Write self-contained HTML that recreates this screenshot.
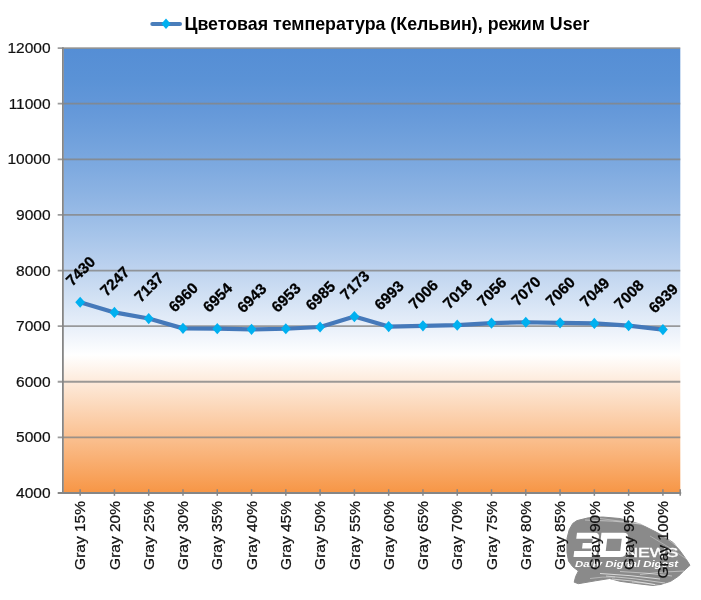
<!DOCTYPE html><html><head><meta charset="utf-8"><style>
html,body{margin:0;padding:0;background:#fff;width:701px;height:600px;overflow:hidden}
svg{display:block;will-change:transform}
text{font-family:"Liberation Sans",sans-serif}
</style></head><body>
<svg width="701" height="600" viewBox="0 0 701 600">
<defs>
<linearGradient id="bg" x1="0" y1="0" x2="0" y2="1">
<stop offset="0.0000" stop-color="rgb(85,142,213)"/>
<stop offset="0.0690" stop-color="rgb(90,146,214)"/>
<stop offset="0.1380" stop-color="rgb(100,152,217)"/>
<stop offset="0.2070" stop-color="rgb(113,161,220)"/>
<stop offset="0.2760" stop-color="rgb(128,171,224)"/>
<stop offset="0.3450" stop-color="rgb(145,182,228)"/>
<stop offset="0.4140" stop-color="rgb(164,195,233)"/>
<stop offset="0.4830" stop-color="rgb(185,208,238)"/>
<stop offset="0.5520" stop-color="rgb(207,223,243)"/>
<stop offset="0.6210" stop-color="rgb(230,238,249)"/>
<stop offset="0.6900" stop-color="rgb(255,255,255)"/>
<stop offset="1.0000" stop-color="rgb(247,150,70)"/>
</linearGradient>
</defs>

<rect x="63.5" y="48.5" width="616.8" height="444.1" fill="url(#bg)"/>
<line x1="57.7" y1="48.10" x2="680.3" y2="48.10" stroke="#868686" stroke-opacity="0.82" stroke-width="1.8"/>
<line x1="57.7" y1="103.71" x2="680.3" y2="103.71" stroke="#868686" stroke-opacity="0.82" stroke-width="1.8"/>
<line x1="57.7" y1="159.32" x2="680.3" y2="159.32" stroke="#868686" stroke-opacity="0.82" stroke-width="1.8"/>
<line x1="57.7" y1="214.93" x2="680.3" y2="214.93" stroke="#868686" stroke-opacity="0.82" stroke-width="1.8"/>
<line x1="57.7" y1="270.54" x2="680.3" y2="270.54" stroke="#868686" stroke-opacity="0.82" stroke-width="1.8"/>
<line x1="57.7" y1="326.15" x2="680.3" y2="326.15" stroke="#868686" stroke-opacity="0.82" stroke-width="1.8"/>
<line x1="57.7" y1="381.76" x2="680.3" y2="381.76" stroke="#868686" stroke-opacity="0.82" stroke-width="1.8"/>
<line x1="57.7" y1="437.37" x2="680.3" y2="437.37" stroke="#868686" stroke-opacity="0.82" stroke-width="1.8"/>
<line x1="62.9" y1="47.2" x2="62.9" y2="493.5" stroke="#868686" stroke-width="1.8"/>
<line x1="57.7" y1="493.00" x2="681.1999999999999" y2="493.00" stroke="#868686" stroke-width="1.8"/>
<line x1="80.15" y1="489.3" x2="80.15" y2="495.8" stroke="#868686" stroke-width="1.5"/>
<line x1="114.43" y1="489.3" x2="114.43" y2="495.8" stroke="#868686" stroke-width="1.5"/>
<line x1="148.71" y1="489.3" x2="148.71" y2="495.8" stroke="#868686" stroke-width="1.5"/>
<line x1="182.99" y1="489.3" x2="182.99" y2="495.8" stroke="#868686" stroke-width="1.5"/>
<line x1="217.27" y1="489.3" x2="217.27" y2="495.8" stroke="#868686" stroke-width="1.5"/>
<line x1="251.55" y1="489.3" x2="251.55" y2="495.8" stroke="#868686" stroke-width="1.5"/>
<line x1="285.83" y1="489.3" x2="285.83" y2="495.8" stroke="#868686" stroke-width="1.5"/>
<line x1="320.11" y1="489.3" x2="320.11" y2="495.8" stroke="#868686" stroke-width="1.5"/>
<line x1="354.39" y1="489.3" x2="354.39" y2="495.8" stroke="#868686" stroke-width="1.5"/>
<line x1="388.67" y1="489.3" x2="388.67" y2="495.8" stroke="#868686" stroke-width="1.5"/>
<line x1="422.95" y1="489.3" x2="422.95" y2="495.8" stroke="#868686" stroke-width="1.5"/>
<line x1="457.23" y1="489.3" x2="457.23" y2="495.8" stroke="#868686" stroke-width="1.5"/>
<line x1="491.51" y1="489.3" x2="491.51" y2="495.8" stroke="#868686" stroke-width="1.5"/>
<line x1="525.79" y1="489.3" x2="525.79" y2="495.8" stroke="#868686" stroke-width="1.5"/>
<line x1="560.07" y1="489.3" x2="560.07" y2="495.8" stroke="#868686" stroke-width="1.5"/>
<line x1="594.35" y1="489.3" x2="594.35" y2="495.8" stroke="#868686" stroke-width="1.5"/>
<line x1="628.63" y1="489.3" x2="628.63" y2="495.8" stroke="#868686" stroke-width="1.5"/>
<line x1="662.91" y1="489.3" x2="662.91" y2="495.8" stroke="#868686" stroke-width="1.5"/>
<line x1="680.2" y1="489.3" x2="680.2" y2="495.8" stroke="#868686" stroke-width="1.5"/>
<g id="wm">
<polygon points="577,520.6 588.3,517.8 602.5,517 620,518.5 640,524 660,534 673.3,542.7 680,550.7 686.7,560 690,565.3 684,570.7 678.7,576 670.7,581.3 660,584.7 653,585.5 640,584 620,581.3 609.6,578.5 595.4,580.8 578.4,583.7 574.2,582.2 575.6,576.6 578.4,571 572.7,566.7 568.5,561 567,552.5 567,538.3 569.2,529.8 572.7,523.5" fill="#8a8a8a" stroke="#8a8a8a" stroke-width="1" stroke-linejoin="round"/>
<g transform="translate(0,557) skewX(-7) translate(0,-557)">
<path fill="#fff" d="M574,532.8 H592 Q596.5,532.8 596.5,537.3 V552.5 Q596.5,557 592,557 H573.5 V551 H590.5 V548.4 H581 V543 H590.5 V538.8 H574 Z"/>
<path fill="#fff" fill-rule="evenodd" d="M598.5,532.8 H620.5 Q625.8,532.8 625.8,538.1 V551.7 Q625.8,557 620.5,557 H598.5 Z M605,538.8 V551 H619.5 V538.8 Z"/>
</g>
<text x="625.2" y="557.3" font-size="12.6" fill="#fff" stroke="#fff" stroke-width="0.4" textLength="53" lengthAdjust="spacingAndGlyphs">NEWS</text>
<text x="575" y="566.6" font-size="9.6" font-weight="bold" font-style="italic" fill="#fff" textLength="103" lengthAdjust="spacingAndGlyphs">Daily Digital Digest</text>
<path d="M600,573.5 Q630.0,575.05 660,579" stroke="#fff" stroke-width="0.9" fill="none" opacity="0.75"/>
<path d="M606,576 Q635.5,578.3 665,583" stroke="#fff" stroke-width="0.7" fill="none" opacity="0.75"/>
<path d="M612,579 Q633.5,580.55 655,584.5" stroke="#fff" stroke-width="0.8" fill="none" opacity="0.75"/>
<path d="M620,571.5 Q646.0,572.55 672,576" stroke="#fff" stroke-width="0.6" fill="none" opacity="0.75"/>
<path d="M632,582 Q647.0,582.8 662,586" stroke="#fff" stroke-width="0.6" fill="none" opacity="0.75"/>
<path d="M640,574.5 Q662.0,571.55 684,571" stroke="#fff" stroke-width="0.6" fill="none" opacity="0.75"/>
<path d="M590,578.5 Q602.5,576.55 615,577" stroke="#fff" stroke-width="0.5" fill="none" opacity="0.75"/>
<path d="M585,520 Q612.5,520.55 640,523.5" stroke="#fff" stroke-width="0.6" fill="none" opacity="0.75"/>
<path d="M600,518.5 Q625.0,521.05 650,526" stroke="#fff" stroke-width="0.5" fill="none" opacity="0.75"/>
<path d="M655,530 Q670.0,540.3 685,553" stroke="#fff" stroke-width="0.5" fill="none" opacity="0.75"/>
<path d="M650,536 Q669.0,546.8 688,560" stroke="#fff" stroke-width="0.4" fill="none" opacity="0.75"/>
</g>
<text x="50.6" y="53.10" font-size="15.5" text-anchor="end" fill="#111" stroke="#111" stroke-width="0.22">12000</text>
<text x="50.6" y="108.71" font-size="15.5" text-anchor="end" fill="#111" stroke="#111" stroke-width="0.22">11000</text>
<text x="50.6" y="164.32" font-size="15.5" text-anchor="end" fill="#111" stroke="#111" stroke-width="0.22">10000</text>
<text x="50.6" y="219.93" font-size="15.5" text-anchor="end" fill="#111" stroke="#111" stroke-width="0.22">9000</text>
<text x="50.6" y="275.54" font-size="15.5" text-anchor="end" fill="#111" stroke="#111" stroke-width="0.22">8000</text>
<text x="50.6" y="331.15" font-size="15.5" text-anchor="end" fill="#111" stroke="#111" stroke-width="0.22">7000</text>
<text x="50.6" y="386.76" font-size="15.5" text-anchor="end" fill="#111" stroke="#111" stroke-width="0.22">6000</text>
<text x="50.6" y="442.37" font-size="15.5" text-anchor="end" fill="#111" stroke="#111" stroke-width="0.22">5000</text>
<text x="50.6" y="497.98" font-size="15.5" text-anchor="end" fill="#111" stroke="#111" stroke-width="0.22">4000</text>
<text transform="translate(85.35,501) rotate(-90)" font-size="15.5" text-anchor="end" fill="#111" stroke="#111" stroke-width="0.22">Gray 15%</text>
<text transform="translate(119.63,501) rotate(-90)" font-size="15.5" text-anchor="end" fill="#111" stroke="#111" stroke-width="0.22">Gray 20%</text>
<text transform="translate(153.91,501) rotate(-90)" font-size="15.5" text-anchor="end" fill="#111" stroke="#111" stroke-width="0.22">Gray 25%</text>
<text transform="translate(188.19,501) rotate(-90)" font-size="15.5" text-anchor="end" fill="#111" stroke="#111" stroke-width="0.22">Gray 30%</text>
<text transform="translate(222.47,501) rotate(-90)" font-size="15.5" text-anchor="end" fill="#111" stroke="#111" stroke-width="0.22">Gray 35%</text>
<text transform="translate(256.75,501) rotate(-90)" font-size="15.5" text-anchor="end" fill="#111" stroke="#111" stroke-width="0.22">Gray 40%</text>
<text transform="translate(291.03,501) rotate(-90)" font-size="15.5" text-anchor="end" fill="#111" stroke="#111" stroke-width="0.22">Gray 45%</text>
<text transform="translate(325.31,501) rotate(-90)" font-size="15.5" text-anchor="end" fill="#111" stroke="#111" stroke-width="0.22">Gray 50%</text>
<text transform="translate(359.59,501) rotate(-90)" font-size="15.5" text-anchor="end" fill="#111" stroke="#111" stroke-width="0.22">Gray 55%</text>
<text transform="translate(393.87,501) rotate(-90)" font-size="15.5" text-anchor="end" fill="#111" stroke="#111" stroke-width="0.22">Gray 60%</text>
<text transform="translate(428.15,501) rotate(-90)" font-size="15.5" text-anchor="end" fill="#111" stroke="#111" stroke-width="0.22">Gray 65%</text>
<text transform="translate(462.43,501) rotate(-90)" font-size="15.5" text-anchor="end" fill="#111" stroke="#111" stroke-width="0.22">Gray 70%</text>
<text transform="translate(496.71,501) rotate(-90)" font-size="15.5" text-anchor="end" fill="#111" stroke="#111" stroke-width="0.22">Gray 75%</text>
<text transform="translate(530.99,501) rotate(-90)" font-size="15.5" text-anchor="end" fill="#111" stroke="#111" stroke-width="0.22">Gray 80%</text>
<text transform="translate(565.27,501) rotate(-90)" font-size="15.5" text-anchor="end" fill="#111" stroke="#111" stroke-width="0.22">Gray 85%</text>
<text transform="translate(599.55,501) rotate(-90)" font-size="15.5" text-anchor="end" fill="#111" stroke="#111" stroke-width="0.22">Gray 90%</text>
<text transform="translate(633.83,501) rotate(-90)" font-size="15.5" text-anchor="end" fill="#111" stroke="#111" stroke-width="0.22">Gray 95%</text>
<text transform="translate(668.11,501) rotate(-90)" font-size="15.5" text-anchor="end" fill="#111" stroke="#111" stroke-width="0.22">Gray 100%</text>
<polyline points="80.15,302.24 114.43,312.41 148.71,318.53 182.99,328.37 217.27,328.71 251.55,329.32 285.83,328.76 320.11,326.98 354.39,316.53 388.67,326.54 422.95,325.82 457.23,325.15 491.51,323.04 525.79,322.26 560.07,322.81 594.35,323.43 628.63,325.71 662.91,329.54" fill="none" stroke="#4579BA" stroke-width="4.2" stroke-linejoin="round" stroke-linecap="round"/>
<path d="M80.15,296.64 L85.05,302.24 L80.15,307.84 L75.25,302.24Z" fill="#00B0F0"/>
<path d="M114.43,306.81 L119.33,312.41 L114.43,318.01 L109.53,312.41Z" fill="#00B0F0"/>
<path d="M148.71,312.93 L153.61,318.53 L148.71,324.13 L143.81,318.53Z" fill="#00B0F0"/>
<path d="M182.99,322.77 L187.89,328.37 L182.99,333.97 L178.09,328.37Z" fill="#00B0F0"/>
<path d="M217.27,323.11 L222.17,328.71 L217.27,334.31 L212.37,328.71Z" fill="#00B0F0"/>
<path d="M251.55,323.72 L256.45,329.32 L251.55,334.92 L246.65,329.32Z" fill="#00B0F0"/>
<path d="M285.83,323.16 L290.73,328.76 L285.83,334.36 L280.93,328.76Z" fill="#00B0F0"/>
<path d="M320.11,321.38 L325.01,326.98 L320.11,332.58 L315.21,326.98Z" fill="#00B0F0"/>
<path d="M354.39,310.93 L359.29,316.53 L354.39,322.13 L349.49,316.53Z" fill="#00B0F0"/>
<path d="M388.67,320.94 L393.57,326.54 L388.67,332.14 L383.77,326.54Z" fill="#00B0F0"/>
<path d="M422.95,320.22 L427.85,325.82 L422.95,331.42 L418.05,325.82Z" fill="#00B0F0"/>
<path d="M457.23,319.55 L462.13,325.15 L457.23,330.75 L452.33,325.15Z" fill="#00B0F0"/>
<path d="M491.51,317.44 L496.41,323.04 L491.51,328.64 L486.61,323.04Z" fill="#00B0F0"/>
<path d="M525.79,316.66 L530.69,322.26 L525.79,327.86 L520.89,322.26Z" fill="#00B0F0"/>
<path d="M560.07,317.21 L564.97,322.81 L560.07,328.41 L555.17,322.81Z" fill="#00B0F0"/>
<path d="M594.35,317.83 L599.25,323.43 L594.35,329.03 L589.45,323.43Z" fill="#00B0F0"/>
<path d="M628.63,320.11 L633.53,325.71 L628.63,331.31 L623.73,325.71Z" fill="#00B0F0"/>
<path d="M662.91,323.94 L667.81,329.54 L662.91,335.14 L658.01,329.54Z" fill="#00B0F0"/>
<text transform="translate(80.35,270.94) rotate(-45)" font-size="15.3" font-weight="bold" text-anchor="middle" dy="5.4" fill="#000" stroke="#000" stroke-width="0.3">7430</text>
<text transform="translate(114.63,281.11) rotate(-45)" font-size="15.3" font-weight="bold" text-anchor="middle" dy="5.4" fill="#000" stroke="#000" stroke-width="0.3">7247</text>
<text transform="translate(148.91,287.23) rotate(-45)" font-size="15.3" font-weight="bold" text-anchor="middle" dy="5.4" fill="#000" stroke="#000" stroke-width="0.3">7137</text>
<text transform="translate(183.19,297.07) rotate(-45)" font-size="15.3" font-weight="bold" text-anchor="middle" dy="5.4" fill="#000" stroke="#000" stroke-width="0.3">6960</text>
<text transform="translate(217.47,297.41) rotate(-45)" font-size="15.3" font-weight="bold" text-anchor="middle" dy="5.4" fill="#000" stroke="#000" stroke-width="0.3">6954</text>
<text transform="translate(251.75,298.02) rotate(-45)" font-size="15.3" font-weight="bold" text-anchor="middle" dy="5.4" fill="#000" stroke="#000" stroke-width="0.3">6943</text>
<text transform="translate(286.03,297.46) rotate(-45)" font-size="15.3" font-weight="bold" text-anchor="middle" dy="5.4" fill="#000" stroke="#000" stroke-width="0.3">6953</text>
<text transform="translate(320.31,295.68) rotate(-45)" font-size="15.3" font-weight="bold" text-anchor="middle" dy="5.4" fill="#000" stroke="#000" stroke-width="0.3">6985</text>
<text transform="translate(354.59,285.23) rotate(-45)" font-size="15.3" font-weight="bold" text-anchor="middle" dy="5.4" fill="#000" stroke="#000" stroke-width="0.3">7173</text>
<text transform="translate(388.87,295.24) rotate(-45)" font-size="15.3" font-weight="bold" text-anchor="middle" dy="5.4" fill="#000" stroke="#000" stroke-width="0.3">6993</text>
<text transform="translate(423.15,294.52) rotate(-45)" font-size="15.3" font-weight="bold" text-anchor="middle" dy="5.4" fill="#000" stroke="#000" stroke-width="0.3">7006</text>
<text transform="translate(457.43,293.85) rotate(-45)" font-size="15.3" font-weight="bold" text-anchor="middle" dy="5.4" fill="#000" stroke="#000" stroke-width="0.3">7018</text>
<text transform="translate(491.71,291.74) rotate(-45)" font-size="15.3" font-weight="bold" text-anchor="middle" dy="5.4" fill="#000" stroke="#000" stroke-width="0.3">7056</text>
<text transform="translate(525.99,290.96) rotate(-45)" font-size="15.3" font-weight="bold" text-anchor="middle" dy="5.4" fill="#000" stroke="#000" stroke-width="0.3">7070</text>
<text transform="translate(560.27,291.51) rotate(-45)" font-size="15.3" font-weight="bold" text-anchor="middle" dy="5.4" fill="#000" stroke="#000" stroke-width="0.3">7060</text>
<text transform="translate(594.55,292.13) rotate(-45)" font-size="15.3" font-weight="bold" text-anchor="middle" dy="5.4" fill="#000" stroke="#000" stroke-width="0.3">7049</text>
<text transform="translate(628.83,294.41) rotate(-45)" font-size="15.3" font-weight="bold" text-anchor="middle" dy="5.4" fill="#000" stroke="#000" stroke-width="0.3">7008</text>
<text transform="translate(663.11,298.24) rotate(-45)" font-size="15.3" font-weight="bold" text-anchor="middle" dy="5.4" fill="#000" stroke="#000" stroke-width="0.3">6939</text>
<line x1="152.3" y1="24" x2="180" y2="24" stroke="#4A7EBB" stroke-width="4" stroke-linecap="round"/>
<path d="M166,18.4 L170.6,23.8 L166,29.1 L161.4,23.8Z" fill="#00B0F0"/>
<text x="184.4" y="29.8" font-size="17.8" font-weight="bold" fill="#000">Цветовая температура (Кельвин), режим User</text>
</svg></body></html>
